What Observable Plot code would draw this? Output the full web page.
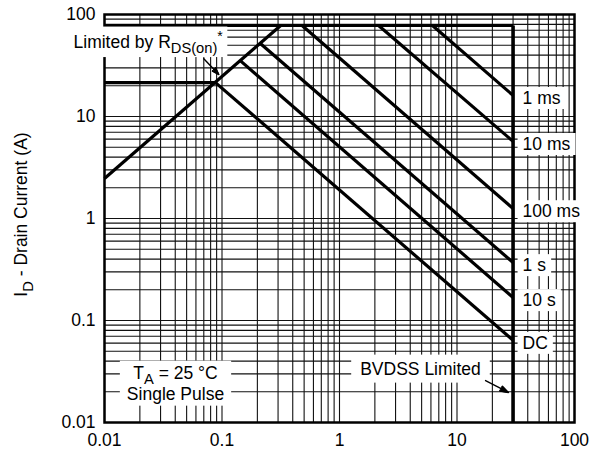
<!DOCTYPE html>
<html><head><meta charset="utf-8">
<script src="https://cdn.jsdelivr.net/npm/d3@7"></script>
<script src="https://cdn.jsdelivr.net/npm/@observablehq/plot@0.6"></script>
<style>body{margin:0;background:#fff} svg{display:block}</style>
</head><body>
<script>
// axis ticks
const xTicks = [0.01, 0.1, 1, 10, 100];
const xTickLabels = ["0.01", "0.1", "1", "10", "100"];
const yTicks = [0.01, 0.1, 1, 10, 100];
const yTickLabels = ["0.01", "0.1", "1", "10", "100"];
const yTitle = "I_{D} - Drain Current (A)";

// limit lines (VDS, ID)
const limitV1 = [0.01, 0.01, 0.01];
const limitI1 = [2.47, 78, 21.5];
const limitV2 = [0.316, 30, 0.088];
const limitI2 = [78, 78, 21.5];

// BVDSS limit
const bvV = [30, 30];
const bvI = [0.01, 78];

// pulse-width lines
const pulseLabels = ["1 ms", "10 ms", "100 ms", "1 s", "10 s", "DC"];
const pulseStartV = [6.18, 2.15, 0.48, 0.212, 0.143, 0.088];
const pulseStartI = [78, 78, 78, 52, 35.3, 21.5];
const pulseEndV = [30, 30, 30, 30, 30, 30];
const pulseEndI = [16.1, 5.7, 1.25, 0.37, 0.168, 0.064];

// annotations
const noteText = ["Limited by R_{DS(on)}^{*}", "T_{A} = 25 °C\nSingle Pulse", "BVDSS Limited"];
const noteV = [0.00545, 0.0402, 4.89];
const noteI = [53.8, 0.0247, 0.0343];
const noteAnchor = ["start", "middle", "middle"];
const notePad = [[4, 1], [7, 2], [9, 4]];

const arrowV1 = [0.070, 17.5];
const arrowI1 = [36.8, 0.0258];
const arrowV2 = [0.094, 27.4];
const arrowI2 = [25.8, 0.0197];

// tables
const limits = limitV1.map((v, i) => ({x1: v, y1: limitI1[i], x2: limitV2[i], y2: limitI2[i]}));
const bv = [{x1: bvV[0], y1: bvI[0], x2: bvV[1], y2: bvI[1]}];
const pulses = pulseLabels.map((l, i) => ({label: l, x1: pulseStartV[i], y1: pulseStartI[i], x2: pulseEndV[i], y2: pulseEndI[i]}));
const notes = noteText.map((t, i) => ({text: t, x: noteV[i], y: noteI[i], anchor: noteAnchor[i], pad: notePad[i]}));
const arrows = arrowV1.map((v, i) => ({x1: v, y1: arrowI1[i], x2: arrowV2[i], y2: arrowI2[i]}));
const gridVals = d3.scaleLog().domain([0.01, 100]).ticks();

const FONT = "'Liberation Sans', Arial, Helvetica, sans-serif";

const chart = Plot.plot({
  width: 589, height: 451,
  marginLeft: 104, marginRight: 15, marginTop: 14, marginBottom: 29,
  style: {fontFamily: FONT, fontSize: "17.5px", color: "#000", background: "#fff"},
  x: {type: "log", domain: [0.01, 100], ticks: xTicks, tickFormat: d => xTickLabels[xTicks.indexOf(d)], tickSize: 0, tickPadding: 11, label: null},
  y: {type: "log", domain: [0.01, 100], ticks: yTicks, tickFormat: d => yTickLabels[yTicks.indexOf(d)], tickSize: 0, tickPadding: 9, label: null},
  marks: [
    Plot.ruleX(gridVals, {stroke: "#111", strokeWidth: 1.1}),
    Plot.ruleY(gridVals, {stroke: "#111", strokeWidth: 1.1}),
    Plot.frame({stroke: "#000", strokeWidth: 2.5}),
    Plot.link(limits, {x1: "x1", y1: "y1", x2: "x2", y2: "y2", stroke: "#000", strokeWidth: 3.2}),
    Plot.link(pulses, {x1: "x1", y1: "y1", x2: "x2", y2: "y2", stroke: "#000", strokeWidth: 3.2}),
    Plot.link(bv, {x1: "x1", y1: "y1", x2: "x2", y2: "y2", stroke: "#000", strokeWidth: 3.6}),
    Plot.text(pulses, {x: "x2", y: "y2", text: "label", textAnchor: "start", lineAnchor: "middle", dx: 9.5, dy: 3, fill: "#000"}),
    Plot.text(notes.filter(d => d.anchor === "start"), {x: "x", y: "y", text: "text", textAnchor: "start", lineAnchor: "middle", fill: "#000"}),
    Plot.text(notes.filter(d => d.anchor === "middle"), {x: "x", y: "y", text: "text", textAnchor: "middle", lineAnchor: "middle", lineHeight: 1.2, fill: "#000"}),
    Plot.arrow(arrows, {x1: "x1", y1: "y1", x2: "x2", y2: "y2", stroke: "#000", strokeWidth: 1.4, headLength: 10, headAngle: 36, ariaLabel: "arrow"}),
    Plot.text([yTitle], {frameAnchor: "left", dx: -83, dy: -4, rotate: -90, textAnchor: "middle", lineAnchor: "middle", fill: "#000"})
  ]
});
document.body.append(chart);

const NS = "http://www.w3.org/2000/svg";
const strip = s => s.replace(/[_^]\{([^}]*)\}/g, "$1").replace(/\n/g, "");

// white boxes behind labels, matched by content
const padByText = new Map();
pulseLabels.forEach(l => padByText.set(l, [5, 1]));
notes.forEach(n => padByText.set(strip(n.text), n.pad));

function richify(el) {
  const s = el.textContent;
  if (!/[_^]\{/.test(s)) return;
  el.textContent = "";
  let off = 0;
  const add = (txt, target, size) => {
    const t = document.createElementNS(NS, "tspan");
    t.textContent = txt;
    const dy = target - off;
    if (dy) t.setAttribute("dy", dy);
    off = target;
    if (size) t.setAttribute("font-size", size);
    el.appendChild(t);
  };
  const re = /([_^])\{([^}]*)\}/g;
  let last = 0, m;
  while ((m = re.exec(s))) {
    if (m.index > last) add(s.slice(last, m.index), 0);
    if (m[1] === "_") add(m[2], 5.5, "0.84em"); else add(m[2], -7, "0.8em");
    last = re.lastIndex;
  }
  if (last < s.length) add(s.slice(last), 0);
}
const allTexts = Array.from(chart.querySelectorAll("text"));
allTexts.forEach(t => {
  const kids = Array.from(t.children).filter(c => c.tagName === "tspan");
  if (kids.length) kids.forEach(richify); else richify(t);
});
allTexts.forEach(t => {
  const key = t.textContent;
  if (!padByText.has(key)) return;
  const [px, py] = padByText.get(key);
  const b = t.getBBox();
  const r = document.createElementNS(NS, "rect");
  r.setAttribute("x", b.x - px);
  r.setAttribute("y", b.y - py);
  r.setAttribute("width", b.width + 2 * px);
  r.setAttribute("height", b.height + 2 * py);
  r.setAttribute("fill", "#fff");
  r.setAttribute("stroke", "none");
  const tr = t.getAttribute("transform");
  if (tr) r.setAttribute("transform", tr);
  t.parentNode.insertBefore(r, t);
});

// fill the arrow heads (solid triangles as in the reference)
chart.querySelectorAll("path").forEach(p => {
  const g = p.closest("g");
  if (!g || g.getAttribute("aria-label") !== "arrow") return;
  const nums = (p.getAttribute("d").match(/-?\d*\.?\d+(?:e[-+]?\d+)?/gi) || []).map(Number);
  if (nums.length < 6) return;
  const pts = nums.slice(-6);
  const poly = document.createElementNS(NS, "polygon");
  poly.setAttribute("points", `${pts[0]},${pts[1]} ${pts[2]},${pts[3]} ${pts[4]},${pts[5]}`);
  poly.setAttribute("fill", "#000");
  poly.setAttribute("stroke", "#000");
  poly.setAttribute("stroke-width", "1");
  const tr = p.getAttribute("transform");
  if (tr) poly.setAttribute("transform", tr);
  p.parentNode.appendChild(poly);
});
</script>
</body></html>
